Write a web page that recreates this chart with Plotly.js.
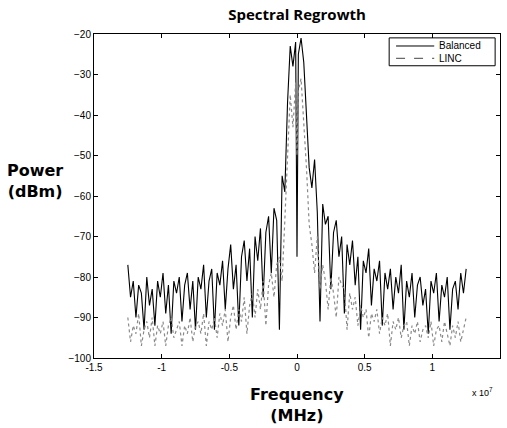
<!DOCTYPE html>
<html>
<head>
<meta charset="utf-8">
<script src="https://cdn.plot.ly/plotly-3.0.1.min.js"></script>
<style>html,body{margin:0;padding:0;background:#fff;}#chart{width:507px;height:428px;}</style>
</head>
<body>
<div id="chart"></div>
<script>
// Frequency in units of 1e7 Hz
const freq = [
-1.25,-1.23,-1.21,-1.19,-1.17,-1.15,-1.13,-1.11,-1.09,-1.07,
-1.05,-1.03,-1.01,-0.99,-0.97,-0.95,-0.93,-0.91,-0.89,-0.87,
-0.85,-0.83,-0.81,-0.79,-0.77,-0.75,-0.73,-0.71,-0.69,-0.67,
-0.65,-0.63,-0.61,-0.59,-0.57,-0.55,-0.53,-0.51,-0.49,-0.47,
-0.45,-0.43,-0.41,-0.39,-0.37,-0.35,-0.33,-0.31,-0.29,-0.27,
-0.25,-0.23,-0.21,-0.19,-0.17,-0.15,-0.13,-0.11,-0.09,-0.07,
-0.05,-0.03,-0.01,0,0.01,0.03,0.05,0.07,0.09,
0.11,0.13,0.15,0.17,0.19,0.21,0.23,0.25,0.27,0.29,
0.31,0.33,0.35,0.37,0.39,0.41,0.43,0.45,0.47,0.49,
0.51,0.53,0.55,0.57,0.59,0.61,0.63,0.65,0.67,0.69,
0.71,0.73,0.75,0.77,0.79,0.81,0.83,0.85,0.87,0.89,
0.91,0.93,0.95,0.97,0.99,1.01,1.03,1.05,1.07,1.09,
1.11,1.13,1.15,1.17,1.19,1.21,1.23,1.25
];

const balanced = [
-77,-85,-81,-90,-82,-84,-93,-80,-87,-83,
-92,-81,-85,-79,-89,-82,-94,-81,-84,-80,
-91,-82,-79,-88,-81,-93,-80,-83,-77,-90,
-81,-78,-93,-79,-82,-76,-88,-78,-72,-83,
-77,-92,-75,-71,-81,-73,-90,-70,-76,-68,
-85,-69,-65,-79,-63,-66,-93,-55,-59,-37,
-23,-28,-22,-75,-25,-21,-27,-40,-53,
-58,-51,-64,-91,-62,-67,-65,-83,-69,-66,
-75,-70,-89,-72,-77,-71,-82,-75,-93,-76,
-79,-73,-87,-78,-81,-76,-92,-79,-83,-78,
-88,-80,-84,-77,-93,-81,-85,-79,-90,-82,
-80,-87,-83,-94,-81,-84,-79,-91,-82,-85,
-80,-93,-83,-81,-88,-79,-84,-78
];

const linc = [
-90,-96,-92,-94,-89,-97,-93,-91,-95,-90,
-97,-92,-94,-91,-97,-92,-90,-95,-93,-91,
-97,-92,-94,-90,-96,-92,-91,-94,-89,-97,
-91,-93,-90,-95,-89,-92,-88,-96,-90,-87,
-93,-88,-91,-85,-94,-87,-84,-90,-83,-88,
-81,-92,-82,-79,-85,-77,-75,-81,-66,-49,
-35,-43,-32,-50,-34,-31,-41,-53,-67,
-72,-79,-70,-83,-77,-81,-88,-80,-84,-90,
-80,-82,-83,-93,-84,-88,-85,-92,-87,-90,
-88,-95,-89,-91,-88,-94,-90,-92,-89,-97,
-91,-93,-90,-95,-92,-91,-97,-92,-94,-91,
-96,-93,-92,-95,-91,-97,-93,-92,-96,-91,
-94,-97,-92,-95,-91,-96,-93,-90
];

const seriesNames = ['Balanced', 'LINC'];
const seriesColors = ['#000000', '#8a8a8a'];
const xTickVals = [-1.5, -1, -0.5, 0, 0.5, 1, 1.5];
const xTickText = ['-1.5', '-1', '-0.5', '0', '0.5', '1', '1.5'];
const yTickVals = [-100, -90, -80, -70, -60, -50, -40, -30, -20];

const traces = [
  {x: freq, y: balanced, name: seriesNames[0], type: 'scatter', mode: 'lines',
   line: {color: seriesColors[0], width: 1.1}},
  {x: freq, y: linc, name: seriesNames[1], type: 'scatter', mode: 'lines',
   line: {color: seriesColors[1], width: 1.2, dash: 'dot'}}
];

const axisCommon = {
  showline: true, linecolor: '#000', linewidth: 1, mirror: 'ticks',
  ticks: 'inside', ticklen: 4, tickcolor: '#000', showgrid: false, zeroline: false,
  tickfont: {family: 'Arial, Liberation Sans, sans-serif', size: 10, color: '#000'}
};

// manual legend geometry (paper coords)
const lg = {x0: 0.727, x1: 0.988, y0: 0.902, y1: 0.988, rows: [0.963, 0.925], sx0: 0.744, sx1: 0.838, tx: 0.845};

const shapes = [
  {type: 'rect', xref: 'paper', yref: 'paper', x0: lg.x0, x1: lg.x1, y0: lg.y0, y1: lg.y1,
   line: {color: '#000', width: 1}, fillcolor: '#fff', layer: 'above'},
  {type: 'line', xref: 'paper', yref: 'paper', x0: lg.sx0, x1: lg.sx1, y0: lg.rows[0], y1: lg.rows[0],
   line: {color: seriesColors[0], width: 1}, layer: 'above'},
  {type: 'line', xref: 'paper', yref: 'paper', x0: lg.sx0, x1: lg.sx1, y0: lg.rows[1], y1: lg.rows[1],
   line: {color: '#444', width: 1, dash: 'dash'}, layer: 'above'}
];

const layout = {
  width: 507, height: 428,
  margin: {l: 94, r: 7, t: 34, b: 70},
  paper_bgcolor: '#fff', plot_bgcolor: '#fff',
  title: {text: '<b>Spectral Regrowth</b>', x: 0.5, xref: 'paper', y: 1 - 15/428, yanchor: 'middle',
          font: {family: 'Open Sans, sans-serif', size: 15, color: '#000'}},
  xaxis: Object.assign({}, axisCommon, {range: [-1.5, 1.5], tickvals: xTickVals, ticktext: xTickText}),
  yaxis: Object.assign({}, axisCommon, {range: [-100, -20], tickvals: yTickVals}),
  showlegend: false,
  shapes: shapes,
  annotations: [
    {text: '<b>Power<br>(dBm)</b>', xref: 'paper', yref: 'paper', x: -0.145, y: 0.546,
     xanchor: 'center', yanchor: 'middle', showarrow: false,
     font: {family: 'DejaVu Sans, sans-serif', size: 16, color: '#000'}},
    {text: '<b>Frequency<br>(MHz)</b>', xref: 'paper', yref: 'paper', x: 0.5, y: -0.145,
     xanchor: 'center', yanchor: 'middle', showarrow: false,
     font: {family: 'DejaVu Sans, sans-serif', size: 16, color: '#000'}},
    {text: 'x 10<sup>7</sup>', xref: 'paper', yref: 'paper', x: 0.958, y: -0.105,
     xanchor: 'center', yanchor: 'middle', showarrow: false,
     font: {family: 'Arial, Liberation Sans, sans-serif', size: 9, color: '#000'}},
    {text: seriesNames[0], xref: 'paper', yref: 'paper', x: lg.tx, y: lg.rows[0],
     xanchor: 'left', yanchor: 'middle', showarrow: false,
     font: {family: 'Arial, Liberation Sans, sans-serif', size: 10, color: '#000'}},
    {text: seriesNames[1], xref: 'paper', yref: 'paper', x: lg.tx, y: lg.rows[1],
     xanchor: 'left', yanchor: 'middle', showarrow: false,
     font: {family: 'Arial, Liberation Sans, sans-serif', size: 10, color: '#000'}}
  ]
};

Plotly.newPlot('chart', traces, layout, {displayModeBar: false, staticPlot: true});
</script>
</body>
</html>
